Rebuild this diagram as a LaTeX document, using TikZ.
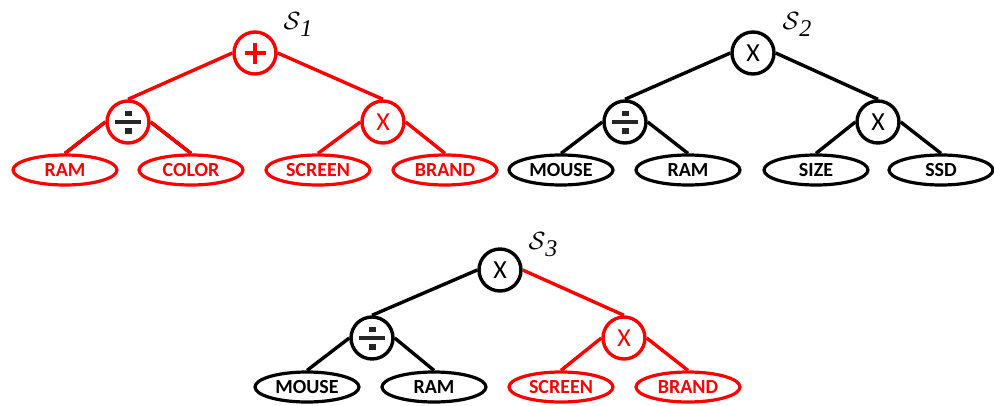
\documentclass[tikz,border=0pt]{standalone}
\usepackage{fontspec}
\setmainfont{Carlito}
\newfontfamily\subfont{Liberation Serif}
\usetikzlibrary{shapes}
\tikzstyle{myred}=[red,text=red]
\tikzstyle{edge}=[line width=3.4pt]
\tikzstyle{op}=[circle,draw,line width=3.4pt,minimum size=42pt,inner sep=0pt,font=\fontsize{26}{26}\selectfont]
\tikzstyle{leaf}=[ellipse,draw,line width=3.2pt,minimum width=104pt,minimum height=30pt,inner sep=0pt,font=\fontsize{20}{20}\selectfont\bfseries]
\tikzstyle{treename}=[font=\fontsize{36}{36}\selectfont,inner sep=0pt]
\newcommand{\divsign}{\textcolor{black!85}{\vbox{\offinterlineskip\hbox to 26pt{\hfil\rule{7pt}{5.5pt}\hfil}\kern3.5pt\hbox{\rule{26pt}{4.5pt}}\kern3.5pt\hbox to 26pt{\hfil\rule{7pt}{6pt}\hfil}}}}
\newcommand{\plussign}{\hbox to 21pt{\hfil\rule[-10.5pt]{4.5pt}{21pt}\hfil\llap{\hbox to 21pt{\rule[-2.25pt]{21pt}{4.5pt}}}}}
\newcommand{\treesub}[1]{{\subfont\itshape\fontsize{24}{24}\selectfont #1}}

\begin{document}
\begin{tikzpicture}[x=1pt,y=-1pt]
		\useasboundingbox (0,0) rectangle (994,405);

		% first tree, all red
		\node[op,myred] (t1) at (255,53) {\plussign};
		\node[op,myred] (t1l) at (128,122) {\divsign};
		\node[op,myred] (t1r) at (383,122) {X};
		\foreach \n/\x/\t in {a/65/RAM,b/191/COLOR,c/318/SCREEN,d/445/BRAND} { \node[leaf,myred] (t1\n) at (\x,170) {\t};}
		\node[treename] (s1) at (298,24) {$\mathcal{S}$\raisebox{-7pt}{\treesub{1}}};

		% second tree
		\node[op] (t2) at (753,53) {X};
		\node[op] (t2l) at (625,122) {\divsign};
		\node[op] (t2r) at (878,122) {X};
		\foreach \n/\x/\t in {a/561/MOUSE,b/688/RAM,c/816/SIZE,d/941/SSD} { \node[leaf] (t2\n) at (\x,170) {\t};}
		\node[treename] (s2) at (797,24) {$\mathcal{S}$\raisebox{-7pt}{\treesub{2}}};

		% third tree, right half red
		\node[op] (t3) at (500,270) {X};
		\node[op] (t3l) at (372,338) {\divsign};
		\node[op,myred] (t3r) at (624,338) {X};
		\foreach \n/\x/\t in {a/307/MOUSE,b/434/RAM} { \node[leaf] (t3\n) at (\x,387) {\t};}
		\foreach \n/\x/\t in {c/561/SCREEN,d/688/BRAND} { \node[leaf,myred] (t3\n) at (\x,387) {\t};}
		\node[treename] (s3) at (543,245) {$\mathcal{S}$\raisebox{-7pt}{\treesub{3}}};

		\foreach \t in {1,2,3} {
			\draw[edge] (t\t l.west) -- (t\t a.north);
			\draw[edge] (t\t l.east) -- (t\t b.north);
		}
		\draw[edge,myred] (t1.west) -- (t1l.north);
		\draw[edge,myred] (t1.east) -- (t1r.north);
		\draw[edge,myred] (t1r.west) -- (t1c.north);
		\draw[edge,myred] (t1r.east) -- (t1d.north);
		\draw[edge,myred] (t1l.west) -- (t1a.north);
		\draw[edge,myred] (t1l.east) -- (t1b.north);
		\draw[edge] (t2.west) -- (t2l.north);
		\draw[edge] (t2.east) -- (t2r.north);
		\draw[edge] (t2r.west) -- (t2c.north);
		\draw[edge] (t2r.east) -- (t2d.north);
		\draw[edge] (t3.west) -- (t3l.north);
		\draw[edge,myred] (t3.east) -- (t3r.north);
		\draw[edge,myred] (t3r.west) -- (t3c.north);
		\draw[edge,myred] (t3r.east) -- (t3d.north);
	\end{tikzpicture}
\end{document}
